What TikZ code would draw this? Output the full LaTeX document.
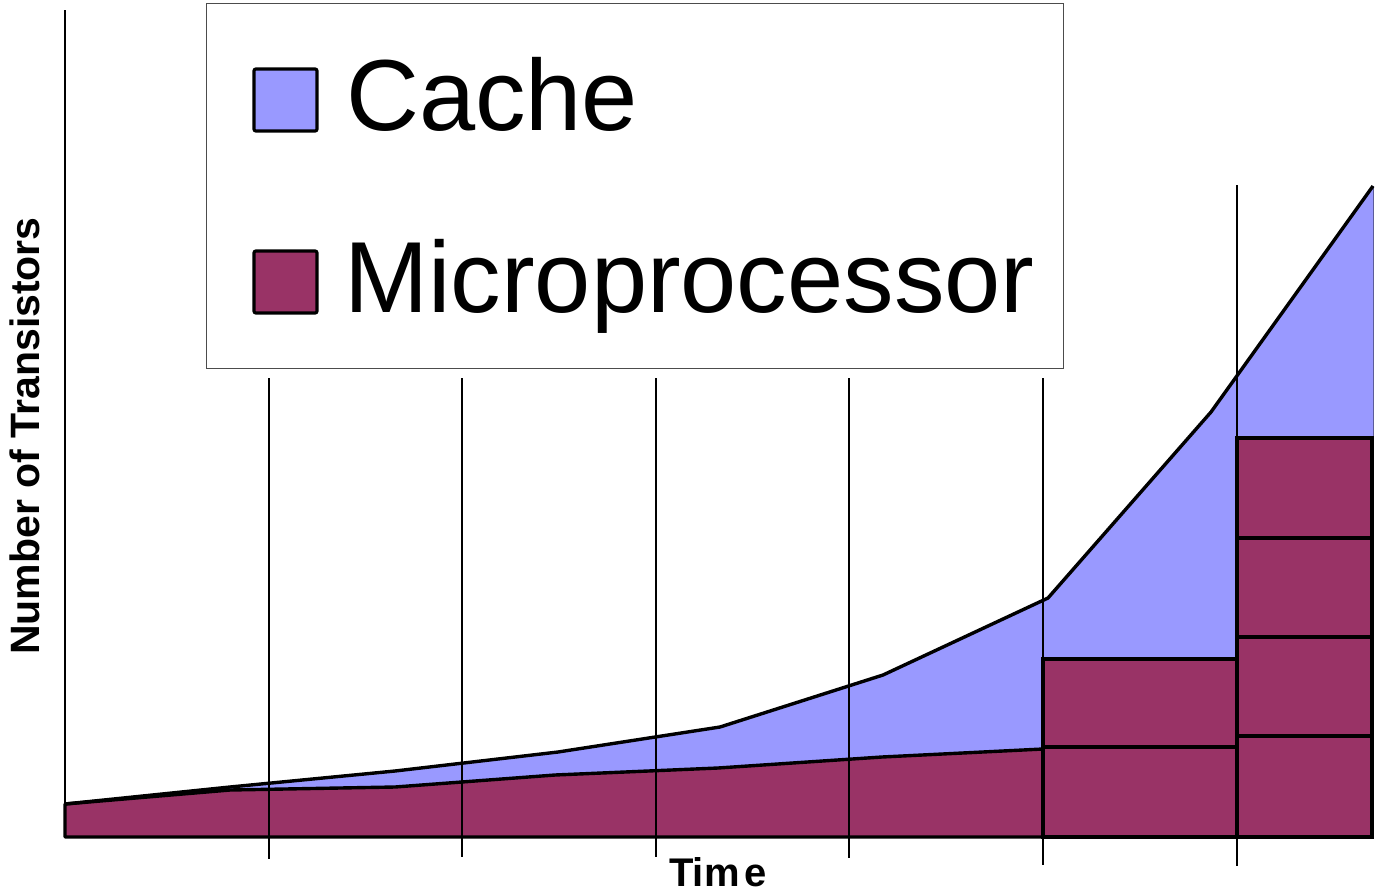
\documentclass[tikz,border=0pt]{standalone}
\usepackage{fontspec}
\setmainfont{Liberation Sans}
\definecolor{cacheblue}{RGB}{153,153,255}
\definecolor{mpred}{RGB}{153,51,102}
\begin{document}
\begin{tikzpicture}[x=1pt,y=-1pt,
  curve/.style={line width=3.4pt,line join=round},
  gridline/.style={line width=1.6pt},
  block/.style={fill=mpred,draw=black,line width=3.2pt},
  swatch/.style={draw=black,line width=3.2pt,rounded corners=2pt},
  legendtext/.style={font=\fontsize{101}{120}\selectfont,anchor=base west,inner sep=0pt}]
\useasboundingbox (0,0) rectangle (1375,894);
% cache area
\fill[cacheblue] (65,804) -- (230,787) -- (395,771) -- (558,752) -- (720,727) -- (883,675) -- (1048,598) -- (1211,412) -- (1373,186) -- (1373,837) -- (65,837) -- cycle;
\draw[draw=cacheblue!60!black,line width=1pt] (1373,186) -- (1373,440);
% microprocessor area
\draw[fill=mpred,curve] (65,837) -- (65,804) -- (230,790) -- (395,787) -- (555,775) -- (718,768) -- (882,757) -- (1043,749) -- (1043,837) -- cycle;
% blocks
\draw[block] (1043,659) rectangle (1237,747);
\draw[block] (1043,747) rectangle (1237,837);
\draw[block] (1237,438) rectangle (1372,538);
\draw[block] (1237,538) rectangle (1372,637);
\draw[block] (1237,637) rectangle (1372,736);
\draw[block] (1237,736) rectangle (1372,837);
% upper curve
\draw[curve] (65,804) -- (230,787) -- (395,771) -- (558,752) -- (720,727) -- (883,675) -- (1048,598) -- (1211,412) -- (1373,186);
% grid lines
\draw[gridline] (269,378) -- (269,859);
\draw[gridline] (462,378) -- (462,857);
\draw[gridline] (656,378) -- (656,857);
\draw[gridline] (849,378) -- (849,858);
\draw[gridline] (1043,378) -- (1043,865);
\draw[gridline] (1237,185) -- (1237,866);
% y axis
\draw[gridline] (65,10) -- (65,837);
% legend
\draw[draw=black!70,line width=1pt,fill=white] (206,3) rectangle (1063,368);
\draw[swatch,fill=cacheblue] (254,69) rectangle (317,131);
\draw[swatch,fill=mpred] (254,251) rectangle (317,313);
\node[legendtext] (lcache) at (346,130) {Cache};
\node[legendtext] (lmp) at (344,312) {Microprocessor};
% axis labels
\node[font=\bfseries\fontsize{41}{48}\selectfont,rotate=90,inner sep=0pt] (ylab) at (25,436) {Number of Transistors};
\node[font=\bfseries\fontsize{40}{48}\selectfont,anchor=base,inner sep=0pt] (xlab) at (718,886) {Tim\kern5pt e};
\end{tikzpicture}
\end{document}
